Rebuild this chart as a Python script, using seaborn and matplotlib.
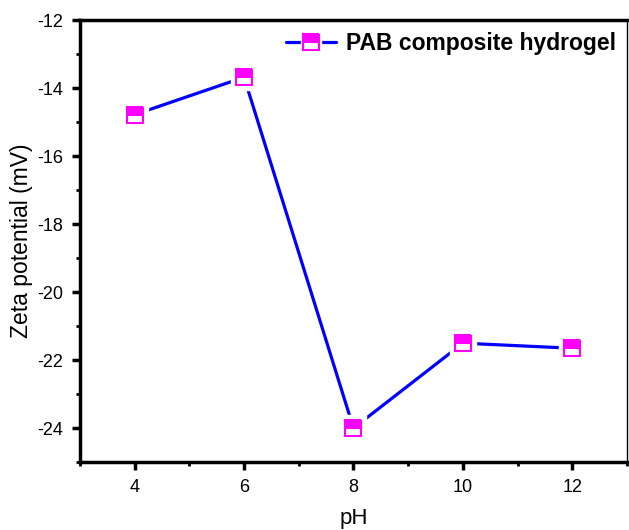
import pandas as pd
import matplotlib.pyplot as plt
import seaborn as sns
from matplotlib.ticker import MultipleLocator
from matplotlib.legend_handler import HandlerTuple

# Zeta potential vs pH
ph = [4, 6, 8, 10, 12]
zeta = [-14.78, -13.68, -24.0, -21.5, -21.65]

data = pd.DataFrame({'pH': ph, 'Zeta potential (mV)': zeta})

sns.set_style('ticks')
plt.rcParams['font.family'] = ['Liberation Sans', 'DejaVu Sans']
plt.rcParams['axes.unicode_minus'] = False
plt.rcParams['axes.edgecolor'] = 'black'
plt.rcParams['xtick.color'] = 'black'
plt.rcParams['ytick.color'] = 'black'
plt.rcParams['axes.labelcolor'] = 'black'
plt.rcParams['text.color'] = 'black'

fig = plt.figure(figsize=(6.29, 5.30), dpi=100)
ax = fig.add_axes([0.127, 0.128, 0.870, 0.834])

marker_style = dict(marker='s', markersize=11, fillstyle='top',
                    markerfacecolor='magenta', markerfacecoloralt='white',
                    markeredgecolor='magenta', markeredgewidth=1.5)

# white squares behind markers give the small gap between line and marker
ax.plot(data['pH'], data['Zeta potential (mV)'], linestyle='none', marker='s',
        markersize=19, color='white', zorder=3)
sns.lineplot(data=data, x='pH', y='Zeta potential (mV)', ax=ax, color='blue',
             linewidth=2.3, zorder=2, label='_nolegend_')
ax.plot(data['pH'], data['Zeta potential (mV)'], linestyle='none', zorder=4,
        **marker_style)

# legend entry: line - marker - line (overlaid, white square makes the gaps)
h_line, = ax.plot([], [], color='blue', linewidth=2.3)
h_gap, = ax.plot([], [], linestyle='none', marker='s', markersize=15, color='white')
h_mark, = ax.plot([], [], linestyle='none', **marker_style)
ax.legend([(h_line, h_gap, h_mark)], ['PAB composite hydrogel'],
          handler_map={tuple: HandlerTuple(ndivide=1)},
          loc='upper right', frameon=False, prop={'weight': 'bold', 'size': 16.5},
          handlelength=2.2, handletextpad=0.4, borderpad=0.3, borderaxespad=0.2)

ax.set_xlim(3, 13)
ax.set_ylim(-25, -12)
ax.xaxis.set_major_locator(MultipleLocator(2))
ax.xaxis.set_minor_locator(MultipleLocator(1))
ax.yaxis.set_major_locator(MultipleLocator(2))
ax.yaxis.set_minor_locator(MultipleLocator(1))
ax.tick_params(which='major', length=6, width=2.5, labelsize=13, direction='out', pad=6)
ax.tick_params(which='minor', length=3, width=2, direction='out')

for side in ['left', 'bottom', 'top']:
    ax.spines[side].set_linewidth(2.5)
ax.spines['right'].set_linewidth(1)

ax.set_xlabel('pH', fontsize=16, labelpad=9)
ax.set_ylabel('Zeta potential (mV)', fontsize=16.5, labelpad=3)

plt.savefig('out.png', dpi=100)
